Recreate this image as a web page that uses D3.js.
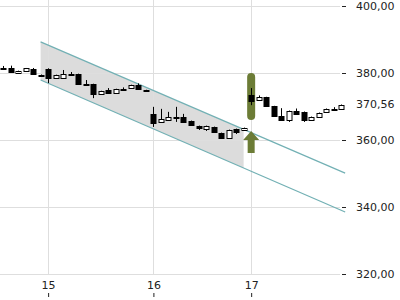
<!DOCTYPE html>
<html>
<head>
<meta charset="utf-8">
<script src="https://cdn.jsdelivr.net/npm/d3@7"></script>
<style>
  body { margin: 0; background: #fff; }
  text { font-family: "DejaVu Sans", sans-serif; }
</style>
</head>
<body>
<div id="chart"></div>
<script>
// candle data, one entry per bar (index = position on the time axis)
const opens  = [381.5,381.5,380.0,380.6,381.2,379.5,381.2,378.5,378.5,379.7,
                379.7,376.75,376.7,373.7,374.9,374.0,375.2,375.5,376.4,374.95,
                367.8,365.4,366.0,366.6,366.9,365.7,364.2,363.3,363.9,362.1,
                360.6,363.3,363.0,373.4,371.9,372.8,370.1,367.2,366.0,368.6,
                368.4,366.0,366.9,368.4,369.25,369.3];
const closes = [381.4,380.2,380.6,381.4,379.7,379.45,378.5,379.4,379.7,379.75,
                376.7,376.7,373.7,374.6,374.0,375.2,375.25,376.4,375.2,374.9,
                365.1,366.3,366.9,366.9,365.4,364.5,363.6,364.2,362.4,360.6,
                363.0,362.4,363.6,371.6,372.8,370.1,367.2,366.0,368.7,367.8,
                366.0,366.9,368.1,369.3,369.3,370.56];
const highs  = [382.1,382.2,380.7,381.5,381.5,379.55,381.4,379.5,380.9,380.3,
                379.8,377.9,376.8,374.7,375.5,375.3,375.7,376.5,376.9,375.0,
                369.9,369.3,368.4,369.9,367.8,365.8,364.3,364.3,364.0,362.2,
                363.1,363.4,363.7,375.5,373.3,372.9,370.2,369.5,368.8,369.4,
                368.5,367.0,368.2,369.4,369.8,370.6];
const lows   = [381.3,380.1,379.9,380.5,379.4,379.4,377.0,378.4,378.4,379.6,
                376.6,376.6,372.5,373.6,373.9,373.9,374.7,375.4,375.1,374.85,
                363.9,365.3,365.9,365.4,365.3,364.4,363.0,362.7,362.3,360.4,
                360.5,361.8,362.9,370.4,371.8,370.0,367.1,365.9,365.4,367.7,
                365.4,365.9,366.8,368.3,369.2,369.2];

const dayTicks = [6, 20, 33];
const dayLabels = ["15", "16", "17"];
const priceTicks = [320, 340, 360, 380, 400];
const lastPrice = 370.56;

// trend channel: x in bar index, values in price
const channelX = [5, 45.5];
const channelUpper = [389.3, 350.1];
const channelLower = [377.9, 338.5];
const shadeEnd = 32;

// signal at day 17: gap marker and buy arrow
const signalIdx = 33;
const gapRange = [380.0, 366.0];
const arrowTip = 362.7, arrowBase = 360.0, arrowEnd = 356.1;

const width = 400, height = 300;
const svg = d3.select("#chart").append("svg")
    .attr("width", width).attr("height", height);

const x = d3.scaleLinear().domain([0, opens.length - 1]).range([3, 341.4]);
const y = d3.scaleLinear().domain([320, 400]).range([274, 6]);
const fmt = d => d3.format(".2f")(d).replace(".", ",");

// channel shading
const lineAt = (vals, i) => vals[0] + (vals[1] - vals[0]) * (i - channelX[0]) / (channelX[1] - channelX[0]);
const shadePts = [
    [channelX[0], channelUpper[0]], [shadeEnd, lineAt(channelUpper, shadeEnd)],
    [shadeEnd, lineAt(channelLower, shadeEnd)], [channelX[0], channelLower[0]]
];
svg.append("path")
    .attr("d", d3.line().x(d => x(d[0])).y(d => y(d[1]))(shadePts) + "Z")
    .attr("fill", "#dcdcdc");

// grid
svg.append("g").selectAll("line").data(priceTicks).join("line")
    .attr("x1", 0).attr("x2", 340)
    .attr("y1", d => Math.round(y(d)) + 0.5).attr("y2", d => Math.round(y(d)) + 0.5)
    .attr("stroke", "#dedede");
svg.append("g").selectAll("line").data(dayTicks).join("line")
    .attr("x1", d => Math.round(x(d)) + 0.5).attr("x2", d => Math.round(x(d)) + 0.5)
    .attr("y1", 0).attr("y2", 274)
    .attr("stroke", "#dedede");

// channel lines
[channelUpper, channelLower].forEach(vals => {
    svg.append("line")
        .attr("x1", x(channelX[0])).attr("y1", y(vals[0]))
        .attr("x2", x(channelX[1])).attr("y2", y(vals[1]))
        .attr("stroke", "#72b0b4").attr("stroke-width", 1.2);
});

// gap marker behind candles
const sx = x(signalIdx);
svg.append("rect")
    .attr("x", sx - 4).attr("width", 8)
    .attr("y", y(gapRange[0])).attr("height", y(gapRange[1]) - y(gapRange[0]))
    .attr("rx", 4)
    .attr("fill", "#6c7c36");

// candles
const bars = svg.append("g").selectAll("g").data(opens).join("g");
bars.append("line")
    .attr("x1", (d, i) => Math.round(x(i)) + 0.5).attr("x2", (d, i) => Math.round(x(i)) + 0.5)
    .attr("y1", (d, i) => y(highs[i])).attr("y2", (d, i) => y(lows[i]))
    .attr("stroke", "#000");
bars.append("rect")
    .attr("x", (d, i) => Math.round(x(i)) - 2)
    .attr("width", 5)
    .attr("y", (d, i) => Math.round(y(Math.max(opens[i], closes[i]))) + 0.5)
    .attr("height", (d, i) => Math.max(1, Math.round(Math.abs(y(opens[i]) - y(closes[i])))))
    .attr("fill", (d, i) => closes[i] >= opens[i] ? "#fff" : "#000")
    .attr("stroke", "#000");

// buy arrow
const arrow = [
    [sx, y(arrowTip)], [sx + 8, y(arrowBase)], [sx + 3.5, y(arrowBase)],
    [sx + 3.5, y(arrowEnd)], [sx - 3.5, y(arrowEnd)], [sx - 3.5, y(arrowBase)],
    [sx - 8, y(arrowBase)]
];
svg.append("path")
    .attr("d", d3.line()(arrow) + "Z")
    .attr("fill", "#6c7c36");

// right price axis
const yAxis = svg.append("g")
    .attr("transform", "translate(342,0)")
    .call(d3.axisRight(y).tickValues(priceTicks).tickSize(4).tickPadding(10).tickFormat(fmt));
yAxis.select(".domain").remove();
yAxis.selectAll("text").attr("font-size", 11).attr("fill", "#222")
    .style("font-family", "DejaVu Sans");
yAxis.selectAll("line").attr("stroke", "#222");

svg.append("text")
    .attr("x", 356).attr("y", y(lastPrice)).attr("dy", "0.32em")
    .attr("font-size", 11).attr("fill", "#222")
    .text(fmt(lastPrice));

// bottom day axis (ticks under the labels)
const xAxis = svg.append("g")
    .attr("transform", "translate(0,297)")
    .call(d3.axisTop(x).tickValues(dayTicks).tickSize(4).tickPadding(4)
        .tickFormat((d, i) => dayLabels[i]));
xAxis.select(".domain").remove();
xAxis.selectAll("text").attr("font-size", 11).attr("fill", "#222")
    .style("font-family", "DejaVu Sans");
xAxis.selectAll("line").attr("stroke", "#222");
</script>
</body>
</html>
